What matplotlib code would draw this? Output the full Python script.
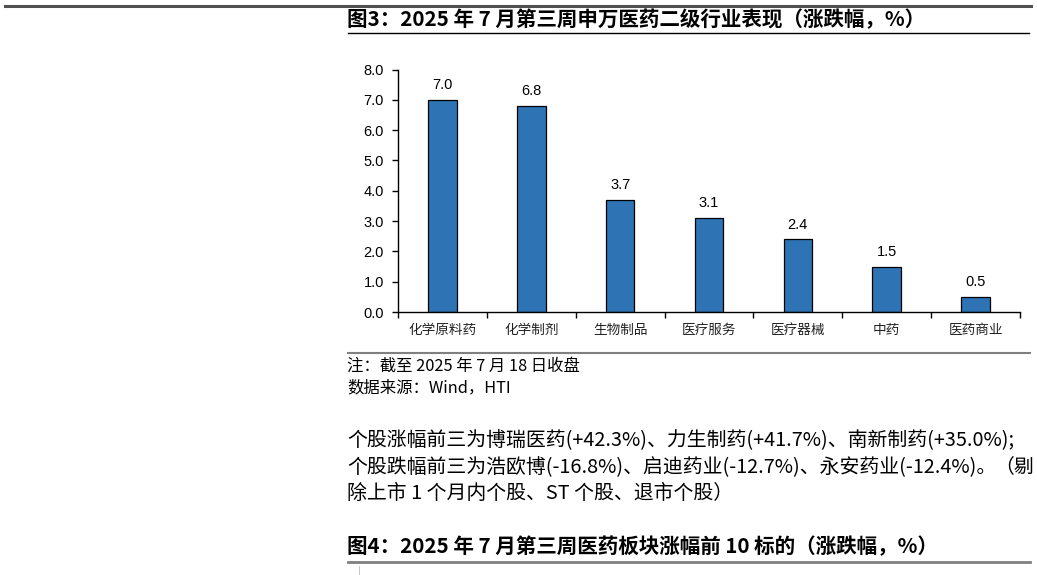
import matplotlib
matplotlib.use('Agg')
import matplotlib.pyplot as plt
from matplotlib.lines import Line2D

plt.rcParams['font.family'] = ['Noto Sans CJK SC', 'DejaVu Sans']

categories = ['化学原料药', '化学制剂', '生物制品', '医疗服务', '医疗器械', '中药', '医药商业']
values = [7.0, 6.8, 3.7, 3.1, 2.4, 1.5, 0.5]
yticks = [0.0, 1.0, 2.0, 3.0, 4.0, 5.0, 6.0, 7.0, 8.0]

title3 = '图3：2025 年 7 月第三周申万医药二级行业表现（涨跌幅，%）'
note = '注：截至 2025 年 7 月 18 日收盘'
source = '数据来源：Wind，HTI'
para = ['个股涨幅前三为博瑞医药(+42.3%)、力生制药(+41.7%)、南新制药(+35.0%);',
        '个股跌幅前三为浩欧博(-16.8%)、启迪药业(-12.7%)、永安药业(-12.4%)。',
        '除上市 1 个月内个股、ST 个股、退市个股）']
para_tail = '（剔'
title4 = '图4：2025 年 7 月第三周医药板块涨幅前 10 标的（涨跌幅，%）'

W, H = 1037, 575
fig = plt.figure(figsize=(W / 100, H / 100), dpi=100)


def px(x, y):
    return x / W, 1 - y / H


def hline(x0, x1, y0, y1, lw, color):
    a, b = px(x0, y0)
    c, d = px(x1, y1)
    fig.add_artist(Line2D([a, c], [b, d], lw=lw, color=color, transform=fig.transFigure))


def text(x, y, s, ha='left', **kw):
    a, b = px(x, y)
    fig.text(a, b, s, va='center', ha=ha, **kw)


# page decorations
hline(5, 1031, 6, 6, 2.2, '#505050')
text(347, 20, title3, fontsize=14.8, fontweight='bold')
hline(348, 1029, 33, 33, 1.0, 'black')

# chart
l, b = px(398, 312)
r, t = px(1020, 69.5)
ax = fig.add_axes([l, b, r - l, t - b])
x = range(len(categories))
ax.bar(x, values, width=0.32, color='#2E74B5', edgecolor='black', linewidth=0.9)
for xi, v in zip(x, values):
    ax.text(xi, v + 0.25, f'{v:.1f}', ha='center', va='bottom', fontsize=10.5,
            family='Liberation Sans')
ax.set_xlim(-0.5, len(categories) - 0.5)
ax.set_ylim(0, 8)
ax.set_yticks(yticks)
ax.set_yticklabels([f'{v:.1f}' for v in yticks], family='Liberation Sans', fontsize=10.5)
ax.set_xticks([i - 0.5 for i in range(len(categories) + 1)])
ax.set_xticklabels([])
ax.set_xticks(list(x), minor=True)
ax.set_xticklabels(categories, minor=True, fontsize=9.8, color='#222222')
ax.tick_params(axis='x', which='major', direction='out', length=4, width=1)
ax.tick_params(axis='x', which='minor', length=0, pad=8)
ax.tick_params(axis='y', direction='out', length=4, width=1, pad=6)
for s in ['top', 'right']:
    ax.spines[s].set_visible(False)
ax.spines['left'].set_linewidth(1)
ax.spines['bottom'].set_linewidth(1)

hline(348, 1030, 352.5, 352.5, 1.5, '#808080')
text(347, 366, note, fontsize=11.8)
text(347, 388, source, fontsize=11.8)

for i, line in enumerate(para):
    text(347, 440 + i * 26.5, line, fontsize=14.3)
text(1034, 466.5, para_tail, ha='right', fontsize=14.3)

text(347, 547, title4, fontsize=14.8, fontweight='bold')
hline(348, 1030, 562, 562, 2.0, '#808080')
hline(359, 359, 566, 575, 0.6, '#bbbbbb')

fig.savefig('out.png', dpi=100)
